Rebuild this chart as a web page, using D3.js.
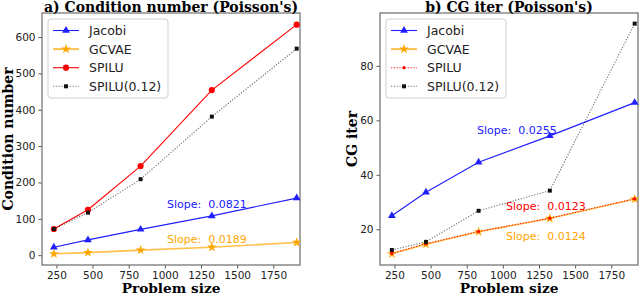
<!DOCTYPE html>
<html>
<head>
<meta charset="utf-8">
<script src="https://cdn.jsdelivr.net/npm/d3@7"></script>
<style>
  body { margin: 0; background: #fff; }
  svg { display: block; }
  text { white-space: pre; }
</style>
</head>
<body>
<svg id="chart" width="640" height="295"></svg>
<script>
// problem sizes (x values)
const sizes = [232, 468, 832, 1325, 1912];
const xTicks = [250, 500, 750, 1000, 1250, 1500, 1750];

// a) condition number
const condJacobi = [22, 42, 71, 108, 157];
const condGCVAE = [4, 7, 14, 22, 35];
const condSPILU = [72, 125, 245, 454, 634];
const condSPILU012 = [72, 117, 209, 381, 568];
const condTicks = [0, 100, 200, 300, 400, 500, 600];

// b) CG iterations
const iterJacobi = [25, 33.6, 44.6, 54.3, 66.5];
const iterGCVAE = [11, 14.5, 19.1, 24, 31.1];
const iterSPILU = [11.2, 14.7, 19.2, 24.1, 31.2];
const iterSPILU012 = [12.4, 15.4, 26.8, 34.2, 95.5];
const iterTicks = [20, 40, 60, 80];

const seriesNames = ["Jacobi", "GCVAE", "SPILU", "SPILU(0.12)"];

const svg = d3.select("#chart");

const styles = {
  "Jacobi": {color: "#1f1fff", dash: null, opacity: 1, marker: "triangle", size: 26, width: 1.1},
  "GCVAE": {color: "#ffa500", dash: null, opacity: 0.7, marker: "star", size: 30, width: 1.6},
  "SPILU": {color: "#ff0000", dash: null, opacity: 1, marker: "circle", size: 30, width: 1.1},
  "SPILU(0.12)": {color: "#111", dash: "1.2,1.6", opacity: 0.6, marker: "square", size: 16, width: 1.1}
};

const symbolOf = {
  triangle: d3.symbolTriangle,
  star: d3.symbolStar,
  circle: d3.symbolCircle,
  square: d3.symbolSquare
};

function drawPanel(opt) {
  const x = d3.scaleLinear().domain([150, 1935]).range([opt.left, opt.left + 258]);
  const y = d3.scaleLinear().domain(opt.yDomain).range([265, 13]);

  const g = svg.append("g");

  // axes
  const xAxis = g.append("g")
    .attr("transform", "translate(0,265)")
    .call(d3.axisBottom(x).tickValues(xTicks).tickFormat(d3.format("d")).tickSize(3.5).tickPadding(3));
  const yAxis = g.append("g")
    .attr("transform", `translate(${opt.left},0)`)
    .call(d3.axisLeft(y).tickValues(opt.yTicks).tickFormat(d3.format("d")).tickSize(3.5).tickPadding(3));
  [xAxis, yAxis].forEach(a => {
    a.select(".domain").remove();
    a.selectAll("line").attr("stroke", "#555");
    a.selectAll("text")
      .attr("fill", "#222")
      .style("font-family", "DejaVu Sans")
      .style("font-size", "10.5px");
  });

  // frame
  g.append("rect")
    .attr("x", opt.left).attr("y", 13)
    .attr("width", 258).attr("height", 252)
    .attr("fill", "none")
    .attr("stroke", "#777")
    .attr("stroke-width", 1.3);

  opt.series.forEach(s => {
    const st = Object.assign({}, styles[s.name], s.style || {});
    const pts = sizes.map((v, i) => [x(v), y(s.values[i])]);
    g.append("path")
      .attr("d", d3.line()(pts))
      .attr("fill", "none")
      .attr("stroke", st.color)
      .attr("stroke-opacity", st.opacity)
      .attr("stroke-width", st.width)
      .attr("stroke-dasharray", st.dash);
    g.selectAll(null)
      .data(pts)
      .join("path")
      .attr("transform", d => `translate(${d[0]},${d[1]})`)
      .attr("d", d3.symbol().type(symbolOf[st.marker]).size(st.size))
      .attr("fill", st.color);
  });

  // slope labels
  opt.slopes.forEach(sl => {
    g.append("text")
      .attr("xml:space", "preserve")
      .attr("x", sl.x).attr("y", sl.y)
      .attr("fill", sl.color)
      .style("font-family", "DejaVu Sans")
      .style("font-size", "11px")
      .text(sl.text);
  });

  // legend
  const lg = g.append("g").attr("transform", `translate(${opt.left + 6},19)`);
  lg.append("rect")
    .attr("width", 120).attr("height", 79)
    .attr("rx", 3)
    .attr("fill", "#fff").attr("fill-opacity", 0.8)
    .attr("stroke", "#d0d0d0");
  seriesNames.forEach((name, i) => {
    const s = opt.series.find(d => d.name === name);
    const st = Object.assign({}, styles[name], s.style || {});
    const ly = 11.5 + i * 18.6;
    lg.append("line")
      .attr("x1", 5).attr("x2", 31).attr("y1", ly).attr("y2", ly)
      .attr("stroke", st.color)
      .attr("stroke-opacity", st.opacity)
      .attr("stroke-width", name === "GCVAE" ? 2 : 1.1)
      .attr("stroke-dasharray", st.dash);
    lg.append("path")
      .attr("transform", `translate(18,${ly})`)
      .attr("d", d3.symbol().type(symbolOf[st.marker]).size(st.size))
      .attr("fill", st.color);
    lg.append("text")
      .attr("x", 41).attr("y", ly + 4.5)
      .attr("fill", "#222")
      .style("font-family", "DejaVu Sans")
      .style("font-size", "12.5px")
      .text(name);
  });

  // title and axis labels
  g.append("text")
    .attr("x", opt.left + 129).attr("y", 11.5)
    .attr("text-anchor", "middle")
    .style("font-family", "DejaVu Serif")
    .style("font-weight", "bold")
    .style("font-size", "14px")
    .text(opt.title);
  g.append("text")
    .attr("x", opt.left + 129).attr("y", 292.5)
    .attr("text-anchor", "middle")
    .style("font-family", "DejaVu Serif")
    .style("font-weight", "bold")
    .style("font-size", "13.7px")
    .text("Problem size");
  g.append("text")
    .attr("transform", `translate(${opt.ylabelX},139) rotate(-90)`)
    .attr("text-anchor", "middle")
    .style("font-family", "DejaVu Serif")
    .style("font-weight", "bold")
    .style("font-size", "14px")
    .text(opt.ylabel);
}

drawPanel({
  left: 42,
  yDomain: [-27, 666],
  yTicks: condTicks,
  title: "a) Condition number (Poisson's)",
  ylabel: "Condition number",
  ylabelX: 12.5,
  series: [
    {name: "Jacobi", values: condJacobi},
    {name: "GCVAE", values: condGCVAE},
    {name: "SPILU", values: condSPILU},
    {name: "SPILU(0.12)", values: condSPILU012}
  ],
  slopes: [
    {x: 167, y: 208, color: "#2020ff", text: "Slope:  0.0821"},
    {x: 167, y: 243, color: "#ffa500", text: "Slope:  0.0189"}
  ]
});

drawPanel({
  left: 380,
  yDomain: [6.9, 99.4],
  yTicks: iterTicks,
  title: "b) CG iter (Poisson's)",
  ylabel: "CG iter",
  ylabelX: 357,
  series: [
    {name: "Jacobi", values: iterJacobi},
    {name: "GCVAE", values: iterGCVAE},
    {name: "SPILU", values: iterSPILU, style: {dash: "1.2,1.6", marker: "circle", size: 8, opacity: 0.9, width: 1.1}},
    {name: "SPILU(0.12)", values: iterSPILU012}
  ],
  slopes: [
    {x: 477, y: 134, color: "#2020ff", text: "Slope:  0.0255"},
    {x: 506, y: 210, color: "#ff0000", text: "Slope:  0.0123"},
    {x: 506, y: 240, color: "#ffa500", text: "Slope:  0.0124"}
  ]
});
</script>
</body>
</html>
